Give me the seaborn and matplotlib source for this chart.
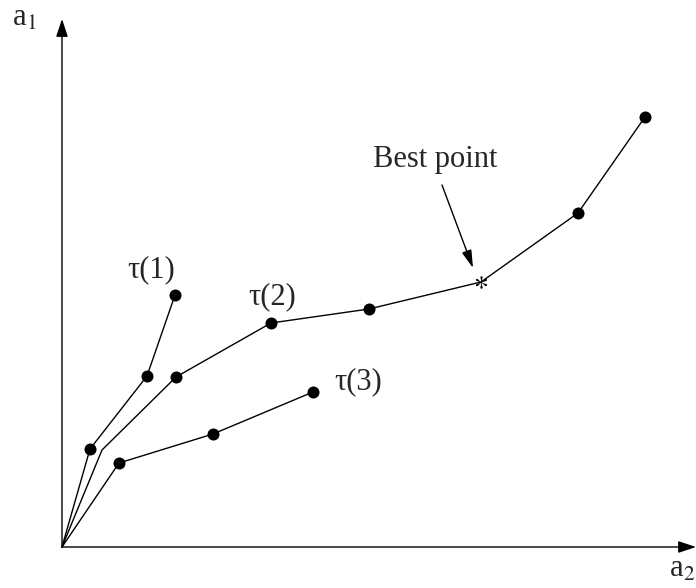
import pandas as pd
import matplotlib
matplotlib.use("Agg")
import matplotlib.pyplot as plt
import seaborn as sns

# Trajectories in the (a2, a1) plane, origin at (0, 0)
tau1_a2 = [0, 28, 85, 113]
tau1_a1 = [0, 98, 171, 252]
tau1_marked = [False, True, True, True]

tau2_a2 = [0, 40, 114, 209, 307, 419, 516, 583]
tau2_a1 = [0, 97, 170, 224, 238, 265, 334, 430]
tau2_marked = [False, False, True, True, True, False, True, True]

tau3_a2 = [0, 57, 151, 251]
tau3_a1 = [0, 84, 113, 155]
tau3_marked = [False, True, True, True]

best_a2, best_a1 = 419, 265
labels = ["τ(1)", "τ(2)", "τ(3)"]


def main():
    sns.set_theme(style="white")
    plt.rcParams["font.family"] = ["Liberation Serif", "DejaVu Serif"]
    plt.rcParams["mathtext.fontset"] = "stix"

    frames = []
    for name, xs, ys, mk in [("τ(1)", tau1_a2, tau1_a1, tau1_marked),
                             ("τ(2)", tau2_a2, tau2_a1, tau2_marked),
                             ("τ(3)", tau3_a2, tau3_a1, tau3_marked)]:
        frames.append(pd.DataFrame({"curve": name, "a2": xs, "a1": ys, "marked": mk}))
    df = pd.concat(frames, ignore_index=True)

    fig = plt.figure(figsize=(6.96, 5.88), dpi=100)
    ax = fig.add_axes([0, 0, 1, 1])

    sns.lineplot(data=df, x="a2", y="a1", units="curve", estimator=None, sort=False,
                 color="black", linewidth=1.0, ax=ax)
    sns.scatterplot(data=df[df["marked"]], x="a2", y="a1", color="black", s=75,
                    edgecolor="black", linewidth=0, ax=ax, zorder=3)
    ax.plot([best_a2], [best_a1], marker="$*$", color="black", markersize=9,
            markeredgewidth=0, zorder=3)

    ax.set_xlim(-62, 634)
    ax.set_ylim(-41, 547)
    ax.axis("off")

    # axes with arrows
    head = "-|>,head_length=0.9,head_width=0.3"
    ax.annotate("", xy=(634, 0), xytext=(0, 0),
                arrowprops=dict(arrowstyle=head, color="black", lw=1.0, shrinkA=0, shrinkB=0))
    ax.annotate("", xy=(0, 528), xytext=(0, 0),
                arrowprops=dict(arrowstyle=head, color="black", lw=1.0, shrinkA=0, shrinkB=0))

    fs = 22
    ax.text(-38, 529, "a$_1$", fontsize=fs, ha="center", va="center")
    ax.text(620, -22, "a$_2$", fontsize=fs, ha="center", va="center")

    ax.text(89, 277, labels[0], fontsize=fs, ha="center", va="center")
    ax.text(210, 250, labels[1], fontsize=fs, ha="center", va="center")
    ax.text(296, 165, labels[2], fontsize=fs, ha="center", va="center")

    ax.text(373, 388, "Best point", fontsize=fs, ha="center", va="center")
    ax.annotate("", xy=(411, 279), xytext=(380, 362),
                arrowprops=dict(arrowstyle="-|>,head_length=0.9,head_width=0.25",
                                color="black", lw=1.0, shrinkA=0, shrinkB=0))

    fig.savefig("out.png", dpi=100)
    plt.close(fig)


if __name__ == "__main__":
    main()
